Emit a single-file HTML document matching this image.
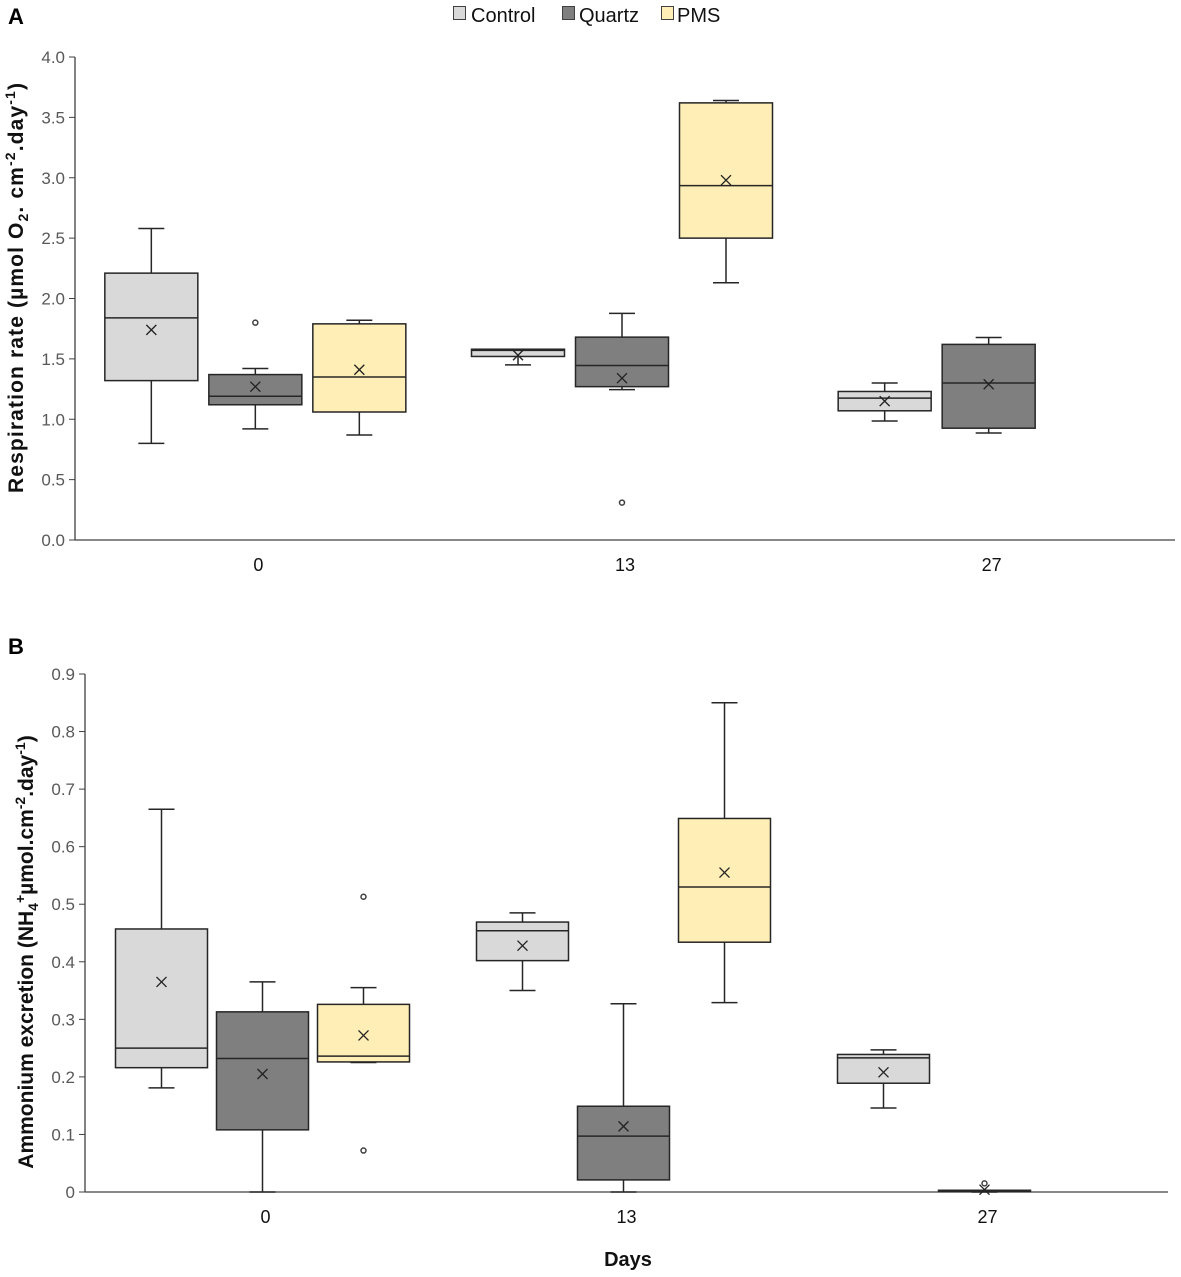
<!DOCTYPE html>
<html><head><meta charset="utf-8"><style>
body{margin:0;background:#fff;}
svg{display:block;font-family:"Liberation Sans",sans-serif;}
</style></head><body>
<svg id="c" width="1181" height="1277" xmlns="http://www.w3.org/2000/svg">
<g>
<rect x="453.5" y="6.5" width="12" height="13" fill="#d9d9d9" stroke="#404040"/>
<text x="471" y="22" font-size="20" fill="#111">Control</text>
<rect x="562.5" y="6.5" width="12" height="13" fill="#7f7f7f" stroke="#404040"/>
<text x="579" y="22" font-size="20" fill="#111">Quartz</text>
<rect x="661.5" y="6.5" width="12" height="13" fill="#ffeeb5" stroke="#404040"/>
<text x="677" y="22" font-size="20" fill="#111">PMS</text>
</g>
<text x="8" y="24" font-size="22" font-weight="bold">A</text>
<text x="8" y="654" font-size="22" font-weight="bold">B</text>
<text transform="translate(23,288) rotate(-90)" text-anchor="middle" font-size="21" font-weight="bold" fill="#111" textLength="410">Respiration rate (µmol O<tspan font-size="14" dy="5">2</tspan><tspan dy="-5">. cm</tspan><tspan font-size="14" dy="-8">-2</tspan><tspan dy="8">.day</tspan><tspan font-size="14" dy="-8">-1</tspan><tspan dy="8">)</tspan></text>
<text transform="translate(33,952) rotate(-90)" text-anchor="middle" font-size="21" font-weight="bold" fill="#111">Ammonium excretion (NH<tspan font-size="14" dy="5">4</tspan><tspan font-size="14" dy="-13">+</tspan><tspan dy="8">µmol.cm</tspan><tspan font-size="14" dy="-8">-2</tspan><tspan dy="8">.day</tspan><tspan font-size="14" dy="-8">-1</tspan><tspan dy="8">)</tspan></text>
<text x="628" y="1266" text-anchor="middle" font-size="20" font-weight="bold" fill="#111">Days</text>
</svg>
<script>
const categories = ["0","13","27"];
const series = ["Control","Quartz","PMS"];
const colors = ["#d9d9d9","#7f7f7f","#ffeeb5"];
const ticksA = ["0.0","0.5","1.0","1.5","2.0","2.5","3.0","3.5","4.0"];
const ticksB = ["0","0.1","0.2","0.3","0.4","0.5","0.6","0.7","0.8","0.9"];
// [min, q1, median, q3, max, mean] per day, per series (null = absent)
const respControl = [[0.80,1.32,1.84,2.21,2.58,1.74],[1.45,1.52,1.57,1.58,1.58,1.53],[0.985,1.07,1.175,1.23,1.30,1.15]];
const respQuartz = [[0.92,1.12,1.19,1.37,1.42,1.27],[1.245,1.27,1.445,1.68,1.877,1.34],[0.886,0.926,1.30,1.62,1.677,1.29]];
const respPMS = [[0.87,1.06,1.35,1.79,1.82,1.41],[2.13,2.50,2.935,3.62,3.64,2.98],null];
const respOutliers = [[1,0,1.80],[1,1,0.31]]; // [seriesIdx, dayIdx, value]
const ammControl = [[0.181,0.216,0.25,0.457,0.665,0.365],[0.35,0.402,0.454,0.469,0.485,0.428],[0.146,0.189,0.233,0.239,0.247,0.208]];
const ammQuartz = [[0,0.108,0.232,0.313,0.365,0.205],[0,0.021,0.097,0.149,0.327,0.114],[0,0.001,0.002,0.003,0.003,0.004]];
const ammPMS = [[0.225,0.226,0.236,0.326,0.355,0.272],[0.329,0.434,0.53,0.649,0.850,0.555],null];
const ammOutliers = [[2,0,0.513],[2,0,0.072],[1,2,0.015]];

const svg = document.getElementById('c');
const NS = "http://www.w3.org/2000/svg";
function mk(tag, at){const e=document.createElementNS(NS,tag);for(const k in at)e.setAttribute(k,at[k]);svg.appendChild(e);return e;}

function panel(p){
  const y = v => p.y0 - (v/p.max)*(p.y0-p.yTop);
  const gw = (p.x1-p.x0)/categories.length;
  const xc = i => p.x0 + gw*(i+0.5);
  const ax = mk('line',{x1:p.x0,y1:p.yTop,x2:p.x0,y2:p.y0,stroke:'#404040','stroke-width':1.3});
  
  
  const bx = mk('line',{x1:p.x0,y1:p.y0,x2:p.x1,y2:p.y0,stroke:'#404040','stroke-width':1.3});
  
  
  p.ticks.forEach((t,i)=>{
    const v = i*p.max/(p.ticks.length-1);
    const tl = mk('line',{x1:p.x0-6,y1:y(v),x2:p.x0,y2:y(v),stroke:'#404040','stroke-width':1});
    
    
    const tx = mk('text',{x:p.x0-10,y:y(v)+6,'text-anchor':'end','font-size':17,fill:'#595959'});
    tx.textContent = t;
    
    
  });
  categories.forEach((c,i)=>{
    const tx = mk('text',{x:xc(i),y:p.y0+31,'text-anchor':'middle','font-size':18,fill:'#111'});
    tx.textContent = c;
    
    
  });
  const bw = p.bw, half = bw/2;
  p.data.forEach((arr,s)=>{
    arr.forEach((d,i)=>{
      if(!d) return;
      const cx = xc(i) - 3 + (s-1)*p.off;
      const g = document.createElementNS(NS,'g');
      
      
      svg.appendChild(g);
      const add=(tag,at)=>{const e=document.createElementNS(NS,tag);for(const k in at)e.setAttribute(k,at[k]);g.appendChild(e);return e;};
      const st={stroke:'#262626','stroke-width':1.5};
      add('line',Object.assign({x1:cx,y1:y(d[0]),x2:cx,y2:y(d[1])},st));
      add('line',Object.assign({x1:cx,y1:y(d[3]),x2:cx,y2:y(d[4])},st));
      add('line',Object.assign({x1:cx-13,y1:y(d[0]),x2:cx+13,y2:y(d[0])},st));
      add('line',Object.assign({x1:cx-13,y1:y(d[4]),x2:cx+13,y2:y(d[4])},st));
      add('rect',Object.assign({x:cx-half,y:y(d[3]),width:bw,height:Math.max(1,y(d[1])-y(d[3])),fill:colors[s]},st));
      add('line',Object.assign({x1:cx-half,y1:y(d[2]),x2:cx+half,y2:y(d[2])},st));
      const my=y(d[5]);
      add('path',{d:`M${cx-5},${my-5}L${cx+5},${my+5}M${cx+5},${my-5}L${cx-5},${my+5}`,stroke:'#222','stroke-width':1.3});
    });
  });
  p.outliers.forEach(o=>{
    const cx = xc(o[1]) - 3 + (o[0]-1)*p.off;
    const ci = mk('circle',{cx:cx,cy:y(o[2]),r:2.5,fill:'#fff',stroke:'#404040','stroke-width':1.5});
    
    
  });
}
panel({id:'a',x0:75,x1:1175,y0:540,yTop:57,max:4,ticks:ticksA,bw:93,off:104,data:[respControl,respQuartz,respPMS],outliers:respOutliers});
panel({id:'b',x0:85,x1:1168,y0:1192,yTop:674,max:0.9,ticks:ticksB,bw:92,off:101,data:[ammControl,ammQuartz,ammPMS],outliers:ammOutliers});
</script>
</body></html>
